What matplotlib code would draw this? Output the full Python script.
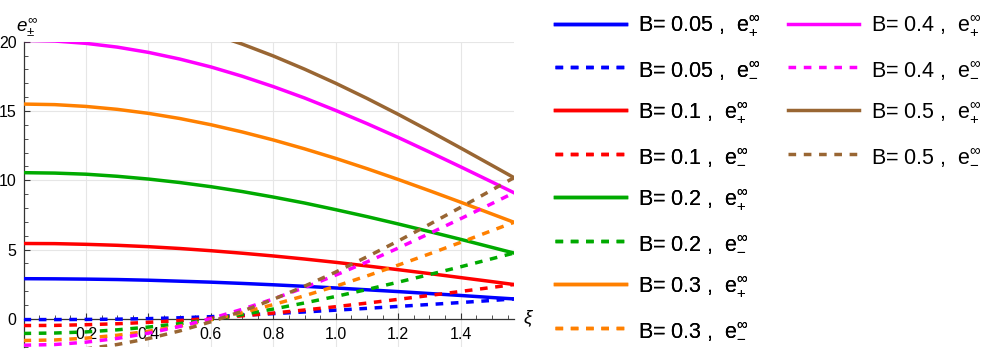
import numpy as np
import matplotlib
matplotlib.use('Agg')
import matplotlib.pyplot as plt
from matplotlib.ticker import MultipleLocator

plt.rcParams['font.family'] = ['Liberation Sans', 'DejaVu Sans']
plt.rcParams['mathtext.fontset'] = 'custom'
plt.rcParams['mathtext.rm'] = 'Liberation Sans'
plt.rcParams['mathtext.it'] = 'Liberation Sans:italic'

# values
xi = [0.0, 0.1, 0.2, 0.3, 0.4, 0.5, 0.6, 0.7, 0.8, 0.9, 1.0, 1.1, 1.2, 1.3, 1.4, 1.5, 1.5708]

B_values = ['0.05', '0.1', '0.2', '0.3', '0.4', '0.5']
colors = ['#0000FF', '#FF0000', '#00AA00', '#FF8000', '#FF00FF', '#996633']

e_plus_005 = [2.90, 2.89, 2.87, 2.84, 2.79, 2.72, 2.65, 2.56, 2.46, 2.35, 2.23, 2.10, 1.97, 1.83, 1.69, 1.54, 1.44]
e_minus_005 = [-0.05, -0.05, -0.04, -0.02, 0.02, 0.08, 0.16, 0.26, 0.38, 0.50, 0.63, 0.76, 0.90, 1.04, 1.18, 1.33, 1.44]
e_plus_01 = [5.44, 5.43, 5.38, 5.31, 5.21, 5.08, 4.92, 4.74, 4.54, 4.32, 4.08, 3.82, 3.55, 3.27, 2.98, 2.69, 2.48]
e_minus_01 = [-0.48, -0.47, -0.42, -0.35, -0.25, -0.12, 0.04, 0.22, 0.42, 0.64, 0.88, 1.14, 1.41, 1.69, 1.98, 2.27, 2.48]
e_plus_02 = [10.55, 10.52, 10.44, 10.29, 10.09, 9.84, 9.54, 9.19, 8.79, 8.36, 7.88, 7.38, 6.85, 6.30, 5.74, 5.16, 4.75]
e_minus_02 = [-1.05, -1.02, -0.94, -0.79, -0.59, -0.34, -0.04, 0.31, 0.71, 1.15, 1.62, 2.12, 2.65, 3.20, 3.76, 4.34, 4.75]
e_plus_03 = [15.50, 15.46, 15.33, 15.12, 14.83, 14.46, 14.01, 13.49, 12.91, 12.27, 11.58, 10.84, 10.06, 9.25, 8.42, 7.57, 6.97]
e_minus_03 = [-1.56, -1.52, -1.39, -1.18, -0.89, -0.52, -0.07, 0.45, 1.03, 1.67, 2.36, 3.10, 3.88, 4.69, 5.52, 6.37, 6.97]
e_plus_04 = [20.10, 20.05, 19.88, 19.61, 19.23, 18.75, 18.18, 17.51, 16.76, 15.94, 15.04, 14.09, 13.09, 12.04, 10.97, 9.88, 9.10]
e_minus_04 = [-1.90, -1.85, -1.68, -1.41, -1.03, -0.55, 0.02, 0.69, 1.44, 2.26, 3.16, 4.11, 5.11, 6.16, 7.23, 8.32, 9.10]
e_plus_05 = [22.79, 22.73, 22.54, 22.23, 21.80, 21.25, 20.59, 19.83, 18.97, 18.02, 17.00, 15.91, 14.76, 13.56, 12.33, 11.08, 10.19]
e_minus_05 = [-2.41, -2.35, -2.16, -1.85, -1.42, -0.87, -0.21, 0.55, 1.41, 2.36, 3.38, 4.48, 5.62, 6.82, 8.05, 9.30, 10.19]

e_plus = [e_plus_005, e_plus_01, e_plus_02, e_plus_03, e_plus_04, e_plus_05]
e_minus = [e_minus_005, e_minus_01, e_minus_02, e_minus_03, e_minus_04, e_minus_05]

fig = plt.figure(figsize=(9.97, 3.56), dpi=100)
ax = fig.add_axes([23.5 / 997, 8.7 / 356, 490.5 / 997, 305.6 / 356])

lw = 2.5
dash = (0, (2.2, 2.2))
handles = []
for B, c, ep, em in zip(B_values, colors, e_plus, e_minus):
    h1, = ax.plot(xi, ep, color=c, lw=lw, zorder=3)
    h2, = ax.plot(xi, em, color=c, lw=lw, ls=dash, zorder=3)
    h1.set_label(r'B= %s ,  $\mathrm{e}_{+}^{\infty}$' % B)
    h2.set_label(r'B= %s ,  $\mathrm{e}_{-}^{\infty}$' % B)
    handles += [h1, h2]

ax.set_xlim(0, 1.5708)
ax.set_ylim(-2.05, 20)

ax.spines['top'].set_visible(False)
ax.spines['right'].set_visible(False)
ax.spines['bottom'].set_position(('data', 0))
for s in ['left', 'bottom']:
    ax.spines[s].set_color('#333333')
    ax.spines[s].set_linewidth(0.9)

ax.set_xticks([0.2, 0.4, 0.6, 0.8, 1.0, 1.2, 1.4])
ax.xaxis.set_minor_locator(MultipleLocator(0.05))
ax.set_yticks([0, 5, 10, 15, 20])
ax.yaxis.set_minor_locator(MultipleLocator(1))
ax.tick_params(which='both', direction='in', colors='#333333', labelcolor='black',
               labelsize=11.5)
ax.tick_params(which='major', length=4.5, width=0.8)
ax.tick_params(which='minor', length=2.8, width=0.6)
ax.tick_params(axis='x', pad=6)
ax.tick_params(axis='y', pad=5)
ax.grid(True, which='major', color='#e6e6e6', lw=0.8, zorder=0)

ax.text(1.03, 0, r'$\xi$', transform=ax.get_yaxis_transform(), fontsize=13.5,
        va='center', ha='center')
ax.text(0.01, 20.3, r'$e_{\pm}^{\infty}$', fontsize=13.5, ha='center', va='bottom')

leg_kw = dict(loc='upper left', frameon=False, fontsize=15.5, handlelength=3.3,
              handletextpad=0.55, labelspacing=0.97, borderpad=0, borderaxespad=0)
leg1 = fig.legend(handles=handles[:8], bbox_to_anchor=(555 / 997, 1 - 14 / 356), **leg_kw)
fig.add_artist(leg1)
leg2 = fig.legend(handles=handles[8:], bbox_to_anchor=(788 / 997, 1 - 14 / 356), **leg_kw)

fig.savefig('out.png', dpi=100)
